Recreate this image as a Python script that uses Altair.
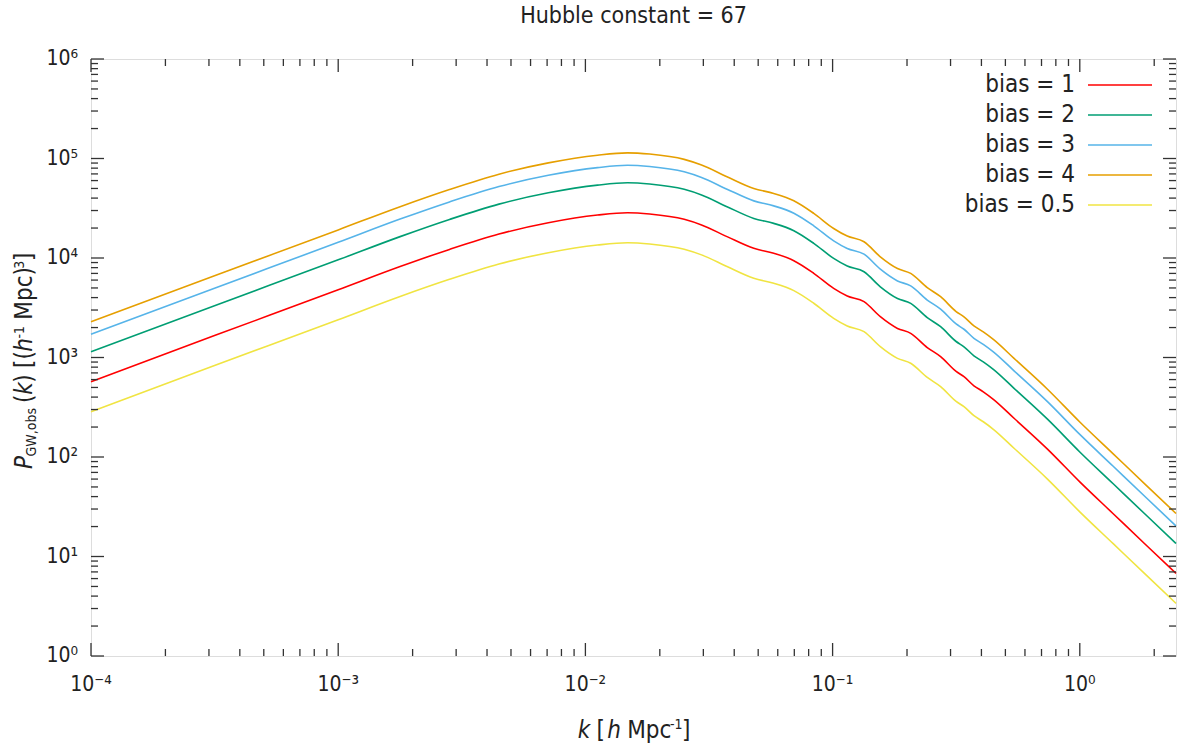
import math
import altair as alt
import pandas as pd

# ---------------- data ----------------
k_values = [1e-4, 3.16e-4, 1e-3, 1.78e-3, 2.82e-3, 4.47e-3, 7.08e-3, 0.0112, 0.0148, 0.0182,
            0.0251, 0.0295, 0.0374, 0.048, 0.0578, 0.0697, 0.0839, 0.101, 0.1146, 0.134,
            0.156, 0.183, 0.207, 0.2415, 0.2735, 0.316, 0.340, 0.373, 0.407, 0.447,
            0.542, 0.740, 1.0, 1.365, 1.862, 2.45]

bias_1 = [571, 1660, 4790, 8200, 12200, 17400, 22600, 27000, 28500, 27700,
          24500, 21500, 16400, 12500, 11140, 9400, 7020, 4950, 4150, 3640,
          2570, 1960, 1750, 1260, 1020, 724, 641, 520, 452, 380,
          245, 120, 56.2, 26.9, 12.9, 6.76]
bias_2 = [1142, 3320, 9580, 16400, 24400, 34800, 45200, 54000, 57000, 55400,
          49000, 43000, 32800, 25000, 22280, 18800, 14040, 9900, 8300, 7280,
          5140, 3920, 3500, 2520, 2040, 1448, 1282, 1040, 904, 760,
          490, 240, 112.4, 53.8, 25.8, 13.52]
bias_3 = [1713, 4980, 14370, 24600, 36600, 52200, 67800, 81000, 85500, 83100,
          73500, 64500, 49200, 37500, 33420, 28200, 21060, 14850, 12450, 10920,
          7710, 5880, 5250, 3780, 3060, 2172, 1923, 1560, 1356, 1140,
          735, 360, 168.6, 80.7, 38.7, 20.28]
bias_4 = [2284, 6640, 19160, 32800, 48800, 69600, 90400, 108000, 114000, 110800,
          98000, 86000, 65600, 50000, 44560, 37600, 28080, 19800, 16600, 14560,
          10280, 7840, 7000, 5040, 4080, 2896, 2564, 2080, 1808, 1520,
          980, 480, 224.8, 107.6, 51.6, 27.04]
bias_05 = [285.5, 830, 2395, 4100, 6100, 8700, 11300, 13500, 14250, 13850,
           12250, 10750, 8200, 6250, 5570, 4700, 3510, 2475, 2075, 1820,
           1285, 980, 875, 630, 510, 362, 320.5, 260, 226, 190,
           122.5, 60, 28.1, 13.45, 6.45, 3.38]

series_names = ["bias = 1", "bias = 2", "bias = 3", "bias = 4", "bias = 0.5"]
series_values = [bias_1, bias_2, bias_3, bias_4, bias_05]
series_colors = ["#ff0000", "#009e73", "#56b4e9", "#e69f00", "#f0e442"]

x_major = [1e-4, 1e-3, 1e-2, 1e-1, 1e0]
x_labels = ["10⁻⁴", "10⁻³", "10⁻²", "10⁻¹", "10⁰"]
y_major = [1, 10, 100, 1e3, 1e4, 1e5, 1e6]
y_labels = ["10⁰", "10¹", "10²", "10³", "10⁴", "10⁵", "10⁶"]

title_text = "Hubble constant = 67"

# axis titles written as pieces: (text, italic, role, space before)
y_title_parts = [("P", True, "main", 0), ("GW,obs", False, "sub", 0),
                 ("(", False, "main", 1), ("k", True, "main", 0), (")", False, "main", 0),
                 ("[(", False, "main", 1), ("h", True, "main", 0), ("-1", False, "sup", 0),
                 ("Mpc)", False, "main", 1), ("3", False, "sup", 0), ("]", False, "main", 0)]
x_title_parts = [("k", True, "main", 0), ("[", False, "main", 1), ("h", True, "main", 0.4),
                 ("Mpc", False, "main", 1), ("-1", False, "sup", 0), ("]", False, "main", 0)]

# ---------------- layout / style ----------------
FONT = "DejaVu Sans Condensed, DejaVu Sans"
TXT = "#222222"
AX = "#333333"
W, H = 1085, 597
X_DOMAIN = [1e-4, 2.45]
Y_DOMAIN = [1, 1e6]

xscale = alt.Scale(type="log", domain=X_DOMAIN, nice=False)
yscale = alt.Scale(type="log", domain=Y_DOMAIN, nice=False)

rows = []
for name, vals in zip(series_names, series_values):
    for kv, pv in zip(k_values, vals):
        rows.append({"k": kv, "P": pv, "series": name})
df = pd.DataFrame(rows)

color_scale = alt.Scale(domain=series_names, range=series_colors)

lines = alt.Chart(df).mark_line(strokeWidth=1.6, interpolate="monotone").encode(
    x=alt.X("k:Q", scale=xscale, axis=None),
    y=alt.Y("P:Q", scale=yscale, axis=None),
    color=alt.Color("series:N", scale=color_scale, legend=None),
)

# tick labels drawn through the scales
xlab = alt.Chart(pd.DataFrame({"k": x_major, "lab": x_labels})).mark_text(
    align="center", baseline="top", fontSize=21, font=FONT, color=TXT).encode(
    x=alt.X("k:Q", scale=xscale, axis=None), y=alt.value(H + 18), text="lab:N")
ylab = alt.Chart(pd.DataFrame({"P": y_major, "lab": y_labels})).mark_text(
    align="right", baseline="middle", fontSize=21, font=FONT, color=TXT).encode(
    y=alt.Y("P:Q", scale=yscale, axis=None), x=alt.value(-13), text="lab:N")

x_minor = [m * 10 ** e for e in range(-4, 1) for m in range(2, 10) if m * 10 ** e <= X_DOMAIN[1]]
y_minor = [m * 10 ** e for e in range(0, 6) for m in range(2, 10)]


def yticks(vals, length, side):
    x0, x1 = (0, length) if side == "left" else (W - length, W)
    return alt.Chart(pd.DataFrame({"P": vals})).mark_rule(color=AX, strokeWidth=1.3).encode(
        y=alt.Y("P:Q", scale=yscale, axis=None), x=alt.value(x0), x2=alt.value(x1))


def xticks(vals, length, side):
    y0, y1 = (H - length, H) if side == "bottom" else (0, length)
    return alt.Chart(pd.DataFrame({"k": vals})).mark_rule(color=AX, strokeWidth=1.3).encode(
        x=alt.X("k:Q", scale=xscale, axis=None), y=alt.value(y0), y2=alt.value(y1))


ticks = [
    yticks(y_major, 13, "left"), yticks(y_major, 13, "right"),
    yticks(y_minor, 7, "left"), yticks(y_minor, 7, "right"),
    xticks(x_major, 13, "bottom"), xticks(x_major, 13, "top"),
    xticks(x_minor, 7, "bottom"), xticks(x_minor, 7, "top"),
]

# approximate advance widths (em) of DejaVu Sans, used to set title pieces side by side
CW = {"P": .603, "G": .775, "W": .989, ",": .318, "o": .612, "b": .635, "s": .521,
      "(": .39, ")": .39, "k": .579, " ": .318, "[": .39, "]": .39, "h": .634,
      "-": .361, "1": .636, "M": .863, "p": .635, "c": .55, "3": .636}
COND = 0.87
ROLE_SIZE = {"main": 24, "sub": 14, "sup": 14}


def piece_rows(parts, start, along, base, shift, sign):
    out = []
    pos = 0.0
    main_sz = ROLE_SIZE["main"]
    for text, italic, role, sp in parts:
        sz = ROLE_SIZE[role]
        pos += sp * CW[" "] * main_sz * COND
        a = start + sign * pos
        b = base + shift[role]
        out.append({"t": text, "it": italic, "fs": sz, along: a,
                    ("px" if along == "py" else "py"): b})
        pos += sum(CW[ch] for ch in text) * sz * COND
    return out


def total_len(parts):
    main_sz = ROLE_SIZE["main"]
    return sum(sp * CW[" "] * main_sz * COND + sum(CW[ch] for ch in t) * ROLE_SIZE[r] * COND
               for t, it, r, sp in parts)


# y title: rotated, reading upward, centred near the plot's middle
y_len = total_len(y_title_parts)
y_rows = piece_rows(y_title_parts, 357 - 59 + y_len / 2 + 4, "py", -59,
                    {"main": 0, "sub": 4, "sup": -8}, -1)
# x title: centred under the plot
x_len = total_len(x_title_parts)
x_rows = piece_rows(x_title_parts, 634 - 91 - x_len / 2, "px", 679,
                    {"main": 0, "sub": 4, "sup": -9}, 1)


def text_layer(rows_, italic, angle):
    d = pd.DataFrame([r for r in rows_ if r["it"] == italic])
    mk = dict(align="left", baseline="alphabetic", font=FONT, color=TXT,
              fontStyle="italic" if italic else "normal")
    if angle:
        mk["angle"] = angle
    return alt.Chart(d).mark_text(**mk).encode(
        x=alt.X("px:Q", scale=None, axis=None), y=alt.Y("py:Q", scale=None, axis=None),
        text="t:N", size=alt.Size("fs:Q", scale=None, legend=None))


texts = [
    text_layer(y_rows, True, 270), text_layer(y_rows, False, 270),
    text_layer(x_rows, True, 0), text_layer(x_rows, False, 0),
]

# legend: label on the left, line sample on the right
leg_df = pd.DataFrame({"series": series_names})
leg_y = alt.Y("series:N", scale=alt.Scale(type="point", domain=series_names,
                                          range=[26, 146], padding=0), axis=None)
leg_text = alt.Chart(leg_df).mark_text(align="right", baseline="middle", fontSize=24,
                                       font=FONT, color=TXT).encode(
    y=leg_y, x=alt.value(984), text="series:N")
leg_line = alt.Chart(leg_df).mark_rule(strokeWidth=1.6).encode(
    y=leg_y, x=alt.value(997), x2=alt.value(1061),
    color=alt.Color("series:N", scale=color_scale, legend=None))

chart = alt.layer(lines, *ticks, xlab, ylab, *texts, leg_text, leg_line).properties(
    width=W, height=H,
    autosize=alt.AutoSizeParams(type="none"),
    padding={"left": 91, "top": 59, "right": 3, "bottom": 93},
    title=alt.TitleParams(title_text, fontSize=23, font=FONT, fontWeight="normal",
                          color=TXT, anchor="middle", offset=20, frame="group"),
).resolve_scale(y="independent", size="independent").configure_view(
    stroke=AX, strokeWidth=1.5
).configure(font=FONT, background="white")

chart.save("out.html", embed_options={"renderer": "svg", "actions": False})
